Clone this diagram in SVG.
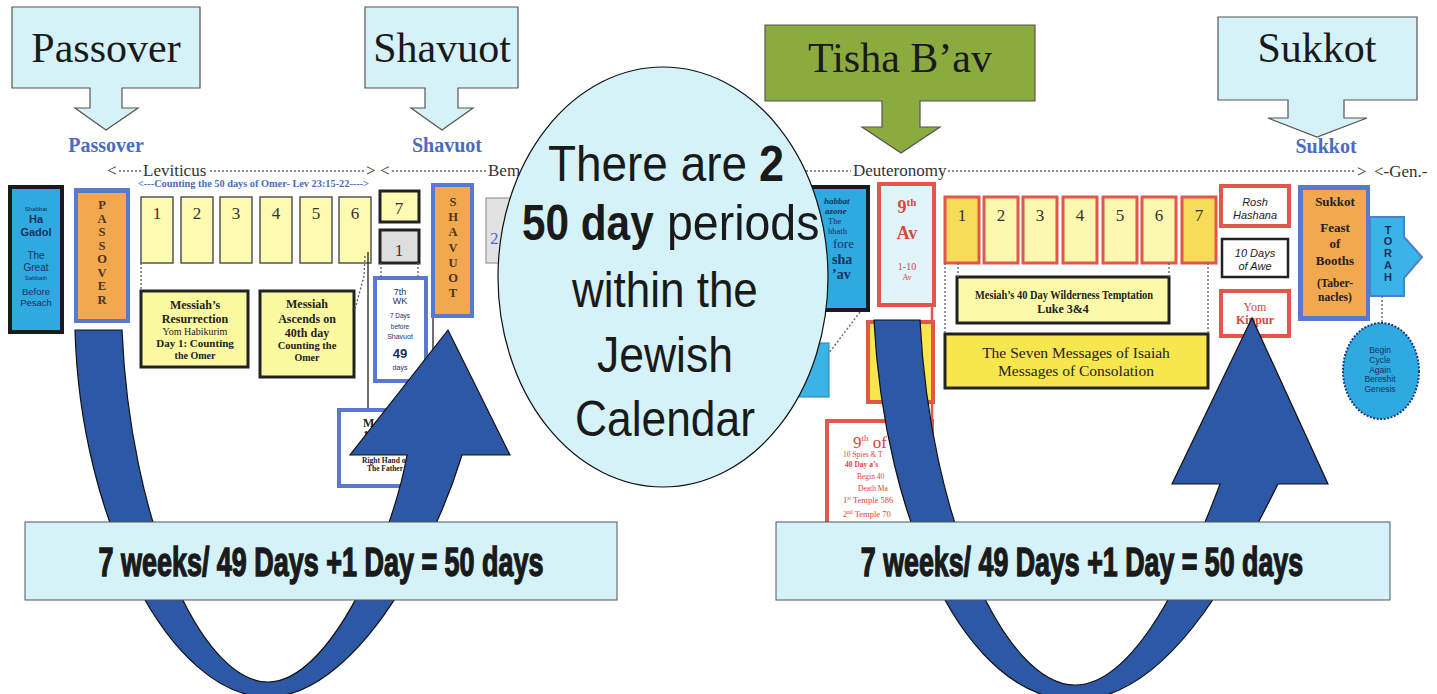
<svg xmlns="http://www.w3.org/2000/svg" width="1437" height="694" viewBox="0 0 1437 694">
<style>
.call{fill:#d4f2f8;stroke:#555;stroke-width:1.2}
.green{fill:#8bab3e;stroke:#555;stroke-width:1.2}
.ct{font-family:"Liberation Serif",serif;font-size:42px;fill:#1a1a1a;text-anchor:middle}
.bl{font-family:"Liberation Serif",serif;font-weight:bold;font-size:20px;fill:#4a6cc0;text-anchor:middle}
.book{font-family:"Liberation Serif",serif;font-size:17px;fill:#333}
.dot{stroke:#666;stroke-width:1.4;stroke-dasharray:2 2;fill:none}
.ln{stroke:#222;stroke-width:1.3;fill:none}
.rl{stroke:#e2574c;stroke-width:2.5;fill:none}
.day{fill:#fcfbb0;stroke:#555;stroke-width:1.5}
.num{font-family:"Liberation Serif",serif;font-size:17px;fill:#333;text-anchor:middle}
.rday{fill:#fcf8b0;stroke:#e2574c;stroke-width:3}
.gold{fill:#f6dc58}
.cyanbox{fill:#2eaae1;stroke:#1a1a1a;stroke-width:4}
.blueb{fill:#5a79cc}
.orange{fill:#f2a84e}
.vl{font-family:"Liberation Serif",serif;font-weight:bold;font-size:12.5px;fill:#4a3520;text-anchor:middle}
.ybox{fill:#fcfaa0;stroke:#222;stroke-width:3}
.ser{font-family:"Liberation Serif",serif;fill:#222;text-anchor:middle}
.sb{font-family:"Liberation Serif",serif;font-weight:bold;fill:#222;text-anchor:middle}
.sans{font-family:"Liberation Sans",Arial,sans-serif;fill:#1b2f5e;text-anchor:middle}
.chz{font-family:"Liberation Serif",serif;fill:#1b2f5e}
.it{font-family:"Liberation Sans",Arial,sans-serif;font-style:italic;font-size:11px;fill:#222;text-anchor:middle}
.red{font-family:"Liberation Serif",serif;fill:#d9463a}
.big{fill:#2d58a6;stroke:#111;stroke-width:1.2}
.wk{fill:#d4f2f8;stroke:#555;stroke-width:1}
.wkt{font-family:"Liberation Sans",Arial,sans-serif;font-weight:bold;font-size:40px;fill:#1a1a1a;stroke:#1a1a1a;stroke-width:1.4;text-anchor:middle}
.circ{font-family:"Liberation Sans",Arial,sans-serif;font-size:50px;fill:#1a1a1a}
</style>
<rect width="1437" height="694" fill="#ffffff"/>

<!-- top callouts -->
<g id="callout-passover">
<path class="call" d="M12,7 H200 V88 H122 V108 H138 L106,130 L75,108 H90 V88 H12 Z"/>
<text class="ct" x="106" y="62" font-size="44">Passover</text>
</g>
<g id="callout-shavuot">
<path class="call" d="M365,7 H518 V88 H458 V108 H473 L442,130 L411,108 H425 V88 H365 Z"/>
<text class="ct" x="442" y="62">Shavuot</text>
</g>
<g id="callout-tisha">
<path class="green" d="M765,25 H1035 V101 H920 V127 H940 L901,153 L862,127 H882 V101 H765 Z"/>
<text class="ct" x="900" y="72">Tisha B’av</text>
</g>
<g id="callout-sukkot">
<path class="call" d="M1218,17 H1417 V100 H1344 V118 H1367 L1317,137 L1268,118 H1288 V100 H1218 Z"/>
<text class="ct" x="1317" y="62">Sukkot</text>
</g>

<!-- blue labels -->
<g id="labels">
<text class="bl" x="106" y="152">Passover</text>
<text class="bl" x="447" y="152">Shavuot</text>
<text class="bl" x="1326" y="153" font-size="21">Sukkot</text>
</g>

<!-- book row -->
<g id="book-row">
<text class="book" x="107" y="176">&lt;</text>
<text class="book" x="143" y="176">Leviticus</text>
<text class="book" x="366" y="176">&gt;</text>
<text class="book" x="380" y="176">&lt;</text>
<text class="book" x="488" y="176">Bem</text>
<text class="book" x="853" y="176">Deuteronomy</text>
<text class="book" x="1357" y="177">&gt;</text>
<text class="book" x="1374" y="177">&lt;-Gen.-</text>
<text x="138" y="187" font-family="Liberation Serif,serif" font-weight="bold" font-size="9.5" fill="#4a6cc0" textLength="231" lengthAdjust="spacingAndGlyphs">&lt;---Counting the 50 days of Omer- Lev 23:15-22----&gt;</text>
</g>

<!-- left nodes -->
<g id="shabbat-hagadol">
<rect class="cyanbox" x="10" y="187" width="52" height="145"/>
<text class="sans" x="36" y="211" font-size="6">Shabbat</text>
<text class="sans" x="36" y="223" font-size="11" font-weight="bold">Ha</text>
<text class="sans" x="36" y="236" font-size="11" font-weight="bold">Gadol</text>
<text class="sans" x="36" y="259" font-size="10">The</text>
<text class="sans" x="36" y="271" font-size="10">Great</text>
<text class="sans" x="36" y="280" font-size="6">Sabbath</text>
<text class="sans" x="36" y="295" font-size="9.5">Before</text>
<text class="sans" x="36" y="306" font-size="9.5">Pesach</text>
</g>
<g id="passover-box">
<rect class="blueb" x="74" y="188" width="56" height="135"/>
<rect class="orange" x="78" y="193" width="48" height="126"/>
<text class="vl" x="102" y="209">P</text>
<text class="vl" x="102" y="222.6">A</text>
<text class="vl" x="102" y="236.1">S</text>
<text class="vl" x="102" y="249.7">S</text>
<text class="vl" x="102" y="263.3">O</text>
<text class="vl" x="102" y="276.9">V</text>
<text class="vl" x="102" y="290.4">E</text>
<text class="vl" x="102" y="304">R</text>
</g>
<g id="days-left">
<rect class="day" x="141" y="197" width="32" height="66"/><text class="num" x="157" y="219">1</text>
<rect class="day" x="181" y="197" width="32" height="66"/><text class="num" x="197" y="219">2</text>
<rect class="day" x="220" y="197" width="32" height="66"/><text class="num" x="236" y="219">3</text>
<rect class="day" x="260" y="197" width="32" height="66"/><text class="num" x="276" y="219">4</text>
<rect class="day" x="300" y="197" width="32" height="66"/><text class="num" x="316" y="219">5</text>
<rect class="day" x="339" y="197" width="32" height="66"/><text class="num" x="355" y="219">6</text>
</g>
<g id="day7-left">
<rect x="380" y="191" width="39" height="31" fill="#fcfbb0" stroke="#222" stroke-width="3"/>
<text class="num" x="399" y="214">7</text>
</g>
<g id="day1-gray">
<rect x="380" y="230" width="39" height="33" fill="#dedede" stroke="#222" stroke-width="3"/>
<text class="num" x="399" y="256" fill="#4a6cc0">1</text>
</g>
<g id="gray-2">
<rect x="486" y="198" width="44" height="65" fill="#e2e2e2" stroke="#999" stroke-width="1.2"/>
<text x="490" y="244" font-family="Liberation Serif,serif" font-size="17" fill="#4a6cc0">2</text>
</g>
<g id="shavuot-box">
<rect class="blueb" x="431" y="183" width="43" height="135"/>
<rect class="orange" x="435" y="187" width="35" height="127"/>
<text class="vl" x="453" y="206">S</text>
<text class="vl" x="453" y="221">H</text>
<text class="vl" x="453" y="236">A</text>
<text class="vl" x="453" y="252">V</text>
<text class="vl" x="453" y="267">U</text>
<text class="vl" x="453" y="282">O</text>
<text class="vl" x="453" y="297">T</text>
</g>
<g id="resurrection">
<rect class="ybox" x="141" y="291" width="107" height="76"/>
<text class="sb" x="195" y="309" font-size="12">Messiah’s</text>
<text class="sb" x="195" y="323" font-size="12">Resurrection</text>
<text class="ser" x="195" y="335" font-size="10" fill="#7a7a30">Yom Habikurim</text>
<text class="sb" x="195" y="347" font-size="11">Day 1: Counting</text>
<text class="sb" x="195" y="359" font-size="10">the Omer</text>
</g>
<g id="ascends">
<rect class="ybox" x="260" y="291" width="94" height="86"/>
<text class="sb" x="307" y="308" font-size="12">Messiah</text>
<text class="sb" x="307" y="323" font-size="12">Ascends on</text>
<text class="sb" x="307" y="337" font-size="12">40th day</text>
<text class="sb" x="307" y="349" font-size="10.5" fill="#3d3d10">Counting the</text>
<text class="sb" x="307" y="361" font-size="10" fill="#3d3d10">Omer</text>
</g>
<g id="seventh-week">
<rect class="blueb" x="373" y="276" width="55" height="107"/>
<rect x="377" y="280" width="47" height="99" fill="#ffffff"/>
<text class="sans" x="400" y="295" font-size="9" fill="#222">7th</text>
<text class="sans" x="400" y="304" font-size="9" fill="#222">WK</text>
<text class="sans" x="400" y="318" font-size="6.5" fill="#222">7 Days</text>
<text class="sans" x="400" y="329" font-size="6.5" fill="#222">before</text>
<text class="sans" x="400" y="339" font-size="7" fill="#222">Shavuot</text>
<text class="sans" x="400" y="358" font-size="13" font-weight="bold" fill="#222">49</text>
<text class="sans" x="400" y="370" font-size="7" fill="#222">days</text>
</g>
<g id="messiah-10">
<rect class="blueb" x="337" y="408" width="78" height="80"/>
<rect x="341" y="412" width="70" height="72" fill="#ffffff"/>
<text x="363" y="427" font-family="Liberation Serif,serif" font-weight="bold" font-size="12" fill="#222">Messiah</text>
<text x="363" y="439" font-family="Liberation Serif,serif" font-weight="bold" font-size="12" fill="#222">10</text>
<text class="sb" x="385" y="463" font-size="7.5">Right Hand of</text>
<text class="sb" x="385" y="471" font-size="7.5">The Father</text>
</g>

<!-- right nodes -->
<g id="shabbat-chazon">
<rect class="cyanbox" x="797" y="187" width="71" height="123"/>
<text class="chz" x="824" y="204" font-size="9" font-weight="bold" font-style="italic">habbat</text>
<text class="chz" x="825" y="214" font-size="9" font-weight="bold" font-style="italic">azone</text>
<text class="chz" x="828" y="224" font-size="8.5">The</text>
<text class="chz" x="828" y="234" font-size="8.5">hbath</text>
<text class="chz" x="833" y="248" font-size="13">fore</text>
<text class="chz" x="832" y="264" font-size="14" font-weight="bold">sha</text>
<text class="chz" x="832" y="279" font-size="14" font-weight="bold">’av</text>
</g>
<g id="small-cyan">
<rect x="790" y="343" width="39" height="54" fill="#3ab4e6" stroke="#2a7fb0" stroke-width="1"/>
</g>
<g id="ninth-av">
<rect x="879" y="184" width="55" height="121" fill="#e0f4fa" stroke="#e2574c" stroke-width="4"/>
<text class="red" x="907" y="213" font-size="18" font-weight="bold" text-anchor="middle">9<tspan font-size="11" dy="-7">th</tspan></text>
<text class="red" x="907" y="239" font-size="18" font-weight="bold" text-anchor="middle">Av</text>
<text class="red" x="907" y="270" font-size="10" text-anchor="middle">1-10</text>
<text class="red" x="907" y="280" font-size="8" text-anchor="middle">Av</text>
</g>
<g id="yellow-red">
<rect x="868" y="322" width="65" height="80" fill="#f8e64e" stroke="#e2574c" stroke-width="4"/>
<text x="908" y="342" font-family="Liberation Serif,serif" font-weight="bold" font-size="11" fill="#222">ah</text>
<text x="908" y="356" font-family="Liberation Serif,serif" font-weight="bold" font-size="11" fill="#222">ad</text>
<text x="908" y="369" font-family="Liberation Serif,serif" font-size="9" fill="#8a8a30">an</text>
<text x="908" y="380" font-family="Liberation Serif,serif" font-size="9" fill="#8a8a30">ts</text>
</g>
<g id="ninth-of-av">
<rect x="827" y="421" width="105" height="120" fill="#ffffff" stroke="#e2574c" stroke-width="4"/>
<text class="red" x="853" y="448" font-size="17">9<tspan font-size="9" dy="-7">th</tspan><tspan dy="7"> of</tspan></text>
<text class="red" x="843" y="457" font-size="7.5">10 Spies &amp; T</text>
<text class="red" x="845" y="467" font-size="7.5" font-weight="bold">40 Day a’s</text>
<text class="red" x="857" y="479" font-size="7.5">Begin 40</text>
<text class="red" x="858" y="491" font-size="7.5">Death Ma</text>
<text class="red" x="843" y="503" font-size="8.5">1<tspan font-size="5.5" dy="-3">st</tspan><tspan dy="3"> Temple 586</tspan></text>
<text class="red" x="843" y="517" font-size="8.5">2<tspan font-size="5.5" dy="-3">nd</tspan><tspan dy="3"> Temple 70</tspan></text>
</g>
<g id="days-right">
<rect class="rday gold" x="945" y="197" width="34" height="66"/><text class="num" x="962" y="221" fill="#3a5cb0">1</text>
<rect class="rday" x="984" y="197" width="34" height="66"/><text class="num" x="1001" y="221">2</text>
<rect class="rday" x="1023" y="197" width="34" height="66"/><text class="num" x="1040" y="221">3</text>
<rect class="rday" x="1063" y="197" width="34" height="66"/><text class="num" x="1080" y="221">4</text>
<rect class="rday" x="1103" y="197" width="34" height="66"/><text class="num" x="1120" y="221">5</text>
<rect class="rday" x="1142" y="197" width="34" height="66"/><text class="num" x="1159" y="221">6</text>
<rect class="rday gold" x="1182" y="197" width="34" height="66"/><text class="num" x="1199" y="221" fill="#3a5cb0">7</text>
</g>
<g id="wilderness">
<rect x="957" y="277" width="212" height="46" fill="#fcfaa8" stroke="#222" stroke-width="3"/>
<text x="975" y="299" font-family="Liberation Serif,serif" font-weight="bold" font-size="12" fill="#222" textLength="178" lengthAdjust="spacingAndGlyphs">Mesiah’s 40 Day Wilderness Temptation</text>
<text class="sb" x="1063" y="313" font-size="12">Luke 3&amp;4</text>
</g>
<g id="seven-messages">
<rect x="945" y="334" width="263" height="54" fill="#f8e64e" stroke="#222" stroke-width="3"/>
<text class="ser" x="1076" y="358" font-size="15.5" fill="#333">The Seven Messages of Isaiah</text>
<text class="ser" x="1076" y="376" font-size="15.5" fill="#333">Messages of Consolation</text>
</g>
<g id="rosh-hashana">
<rect x="1221" y="186" width="68" height="40" fill="#ffffff" stroke="#e2574c" stroke-width="4"/>
<text class="it" x="1255" y="206">Rosh</text>
<text class="it" x="1255" y="219">Hashana</text>
</g>
<g id="days-of-awe">
<rect x="1222" y="239" width="66" height="38" fill="#ffffff" stroke="#222" stroke-width="2.5"/>
<text class="it" x="1255" y="257">10 Days</text>
<text class="it" x="1255" y="270">of Awe</text>
</g>
<g id="yom-kippur">
<rect x="1221" y="291" width="68" height="45" fill="#ffffff" stroke="#e2574c" stroke-width="4"/>
<text class="red" x="1255" y="311" font-size="12" text-anchor="middle">Yom</text>
<text class="red" x="1255" y="324" font-size="12" font-weight="bold" text-anchor="middle">Kippur</text>
</g>
<g id="sukkot-box">
<rect class="blueb" x="1298" y="185" width="72" height="136"/>
<rect class="orange" x="1303" y="190" width="63" height="126"/>
<text class="sb" x="1335" y="206" font-size="13" fill="#3a2a1a">Sukkot</text>
<text class="sb" x="1335" y="232" font-size="13" fill="#3a2a1a">Feast</text>
<text class="sb" x="1335" y="248" font-size="13" fill="#3a2a1a">of</text>
<text class="sb" x="1335" y="265" font-size="13" fill="#3a2a1a">Booths</text>
<text class="sb" x="1335" y="287" font-size="11.5" fill="#3a2a1a">(Taber-</text>
<text class="sb" x="1335" y="301" font-size="11.5" fill="#3a2a1a">nacles)</text>
</g>
<g id="torah">
<path d="M1370,217 H1404 V237 L1422,257 L1404,278 V296 H1370 Z" fill="#3ab4e6" stroke="#4f7fd0" stroke-width="2"/>
<text class="sans" x="1388" y="234" font-size="11" font-weight="bold">T</text>
<text class="sans" x="1388" y="245" font-size="11" font-weight="bold">O</text>
<text class="sans" x="1388" y="257" font-size="11" font-weight="bold">R</text>
<text class="sans" x="1388" y="269" font-size="11" font-weight="bold">A</text>
<text class="sans" x="1388" y="281" font-size="11" font-weight="bold">H</text>
</g>
<g id="begin-cycle">
<ellipse cx="1381" cy="371" rx="38" ry="48" fill="#2eaae1" stroke="#1b3a80" stroke-width="2" stroke-dasharray="2 1.5"/>
<text class="sans" x="1380" y="353" font-size="8.5">Begin</text>
<text class="sans" x="1380" y="363" font-size="8.5">Cycle</text>
<text class="sans" x="1380" y="373" font-size="8.5">Again</text>
<text class="sans" x="1380" y="382" font-size="8.5">Bereshit</text>
<text class="sans" x="1380" y="392" font-size="8.5">Genesis</text>
</g>

<!-- connectors -->
<g id="connectors">
<line class="dot" x1="119" y1="171" x2="141" y2="171"/>
<line class="dot" x1="210" y1="171" x2="365" y2="171"/>
<line class="dot" x1="392" y1="171" x2="487" y2="171"/>
<line class="dot" x1="806" y1="171" x2="851" y2="171"/>
<line class="dot" x1="948" y1="171" x2="1356" y2="171"/>
<line class="dot" x1="141" y1="263" x2="141" y2="291"/>
<path class="dot" d="M365,256 L364,276 L355,309"/>
<line class="ln" x1="368" y1="252" x2="368" y2="408"/>
<line class="dot" x1="381" y1="263" x2="381" y2="277"/>
<line class="dot" x1="418" y1="263" x2="418" y2="277"/>
<line class="ln" x1="433" y1="318" x2="433" y2="408"/>
<line class="dot" x1="860" y1="312" x2="829" y2="353"/>
<line class="rl" x1="932" y1="305" x2="932" y2="322"/>
<line class="rl" x1="932" y1="402" x2="932" y2="421"/>
<line class="dot" x1="945" y1="263" x2="945" y2="334"/>
<line class="dot" x1="958" y1="263" x2="958" y2="277"/>
<line class="dot" x1="1169" y1="263" x2="1169" y2="277"/>
<line class="dot" x1="1208" y1="263" x2="1208" y2="334"/>
<line class="dot" x1="1382" y1="296" x2="1382" y2="323"/>
</g>

<!-- central ellipse -->
<g id="center-ellipse">
<ellipse cx="663" cy="277" rx="165" ry="210" fill="#d4f2f8" stroke="#111" stroke-width="1.2"/>
<text class="circ" transform="translate(548,181) scale(0.918,1)" x="0" y="0">There are</text>
<text class="circ" transform="translate(759,181) scale(0.9,1)" x="0" y="0" font-weight="bold">2</text>
<text class="circ" transform="translate(522,240) scale(0.846,1)" x="0" y="0" font-weight="bold">50 day</text>
<text class="circ" transform="translate(667,240) scale(0.93,1)" x="0" y="0">periods</text>
<text class="circ" transform="translate(572,307) scale(0.88,1)" x="0" y="0">within the</text>
<text class="circ" transform="translate(597,372) scale(0.89,1)" x="0" y="0">Jewish</text>
<text class="circ" transform="translate(575,436) scale(0.887,1)" x="0" y="0">Calendar</text>
</g>

<!-- big curved arrows -->
<g id="curved-arrows">
<path class="big" d="M75,330 C80,520 170,697 268,697 C350,697 430,560 462,455 L510,455 L448,330 L350,455 L407,455 C392,540 330,682 268,682 C200,682 130,520 122,330 Z"/>
<path class="big" d="M874,320 C884,520 965,700 1075,700 C1165,700 1230,580 1278,484 L1328,484 L1252,318 L1172,484 L1220,484 C1188,570 1135,685 1075,685 C1005,685 930,520 920,320 Z"/>
</g>

<!-- 50 day boxes -->
<g id="weeks-left">
<rect class="wk" x="25" y="522" width="592" height="78"/>
<text class="wkt" transform="translate(321,576) scale(0.674,1)" x="0" y="0">7 weeks/ 49 Days +1 Day = 50 days</text>
</g>
<g id="weeks-right">
<rect class="wk" x="776" y="522" width="614" height="78"/>
<text class="wkt" transform="translate(1082,576) scale(0.67,1)" x="0" y="0">7 weeks/ 49 Days +1 Day = 50 days</text>
</g>
</svg>
